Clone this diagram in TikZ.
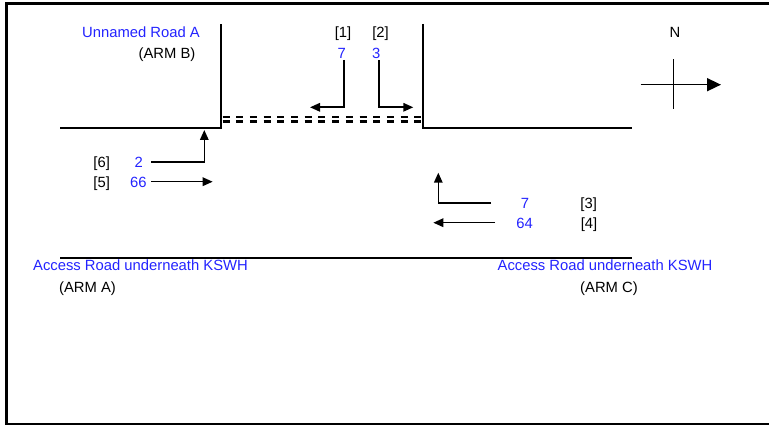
\documentclass[tikz,border=0pt]{standalone}
\usepackage{fontspec}
\setmainfont{Liberation Sans}
\usetikzlibrary{arrows.meta,positioning}
\definecolor{volblue}{RGB}{35,35,255}

\begin{document}
\begin{tikzpicture}[x=1pt,y=-1pt,>={Triangle[length=10pt,width=8.5pt]},
 road/.style={line width=1.4pt},
 giveway/.style={line width=2.4pt,dash pattern=on 7pt off 6.7pt},
 flow/.style={line width=1.6pt,->},
 txt/.style={anchor=base,inner sep=0pt,font=\fontsize{14.8}{17}\selectfont},
 vol/.style={txt,text=volblue}]
\useasboundingbox (0,0) rectangle (769,425);
% frame
\draw[line width=3pt] (6,425) -- (6,3.5) -- (769,3.5);
\draw[line width=1.8pt] (6,423.7) -- (769,423.7);
% kerb lines
\coordinate (bw) at (60,128); \coordinate (bc) at (221,128); \coordinate (bn) at (221,24);
\coordinate (cn) at (423,24); \coordinate (cc) at (423,128); \coordinate (ce) at (632,128);
\coordinate (aw) at (60,258); \coordinate (ae) at (632,258);
\draw[road] (bw) -- (bc) -- (bn);
\draw[road] (cn) -- (cc) -- (ce);
\draw[road] (aw) -- (ae);
% give way markings
\coordinate (g1w) at (222.5,117.2); \coordinate (g1e) at (421,117.2);
\coordinate (g2w) at (222.5,121.4); \coordinate (g2e) at (421,121.4);
\draw[giveway] (g1w) -- (g1e);
\draw[giveway] (g2w) -- (g2e);
% arm names
\node[txt,text=volblue] (rb) at (141,37.3) {Unnamed Road A};
\node[txt] (armb) at (167,58.3) {(ARM B)};
\node[txt,text=volblue] (ra) at (140.5,270.7) {Access Road underneath KSWH};
\node[txt] (arma) at (87.5,292.5) {(ARM A)};
\node[txt,text=volblue] (rc) at (605,270.7) {Access Road underneath KSWH};
\node[txt] (armc) at (609,292) {(ARM C)};
% movements and counts
\node[txt] (m1) at (343,37.3) {[1]};
\node[vol] (v1) at (341.7,58.3) {7};
\node[txt] (m2) at (380.5,37.3) {[2]};
\node[vol] (v2) at (376.3,58.3) {3};
\node[txt] (m6) at (101.7,167.3) {[6]};
\node[vol] (v6) at (138.8,167.3) {2};
\node[txt] (m5) at (101.7,187.7) {[5]};
\node[vol] (v5) at (138.3,187.7) {66};
\node[vol] (v3) at (525,208.7) {7};
\node[txt] (m3) at (588.7,208.7) {[3]};
\node[vol] (v4) at (524.7,228.7) {64};
\node[txt] (m4) at (589,228.7) {[4]};
\coordinate (f1s) at (344,60); \coordinate (f1e) at (310,107.3);
\coordinate (f2s) at (379,60); \coordinate (f2e) at (413.3,107.3);
\coordinate (f6s) at (151,162.3); \coordinate (f6e) at (204.3,130);
\coordinate (f5s) at (151,181.7); \coordinate (f5e) at (212.7,181.7);
\coordinate (f3s) at (491,203.3); \coordinate (f3e) at (438.3,172.7);
\coordinate (f4s) at (495,222.7); \coordinate (f4e) at (433.3,222.7);
\draw[flow] (f1s) |- (f1e);
\draw[flow] (f2s) |- (f2e);
\draw[flow] (f6s) -| (f6e);
\draw[flow] (f5s) -- (f5e);
\draw[flow] (f3s) -| (f3e);
\draw[flow] (f4s) -- (f4e);
% north point
\node[txt] (north) at (675,37.3) {N};
\coordinate (nw) at (640.7,84.7); \coordinate (ne) at (721,84.7);
\coordinate (nt) at (673.3,59.3); \coordinate (nb) at (673.3,109.3);
\draw[line width=1.6pt,-{Triangle[length=14pt,width=13pt]}] (nw) -- (ne);
\draw[line width=1.6pt] (nt) -- (nb);
\end{tikzpicture}
\end{document}
